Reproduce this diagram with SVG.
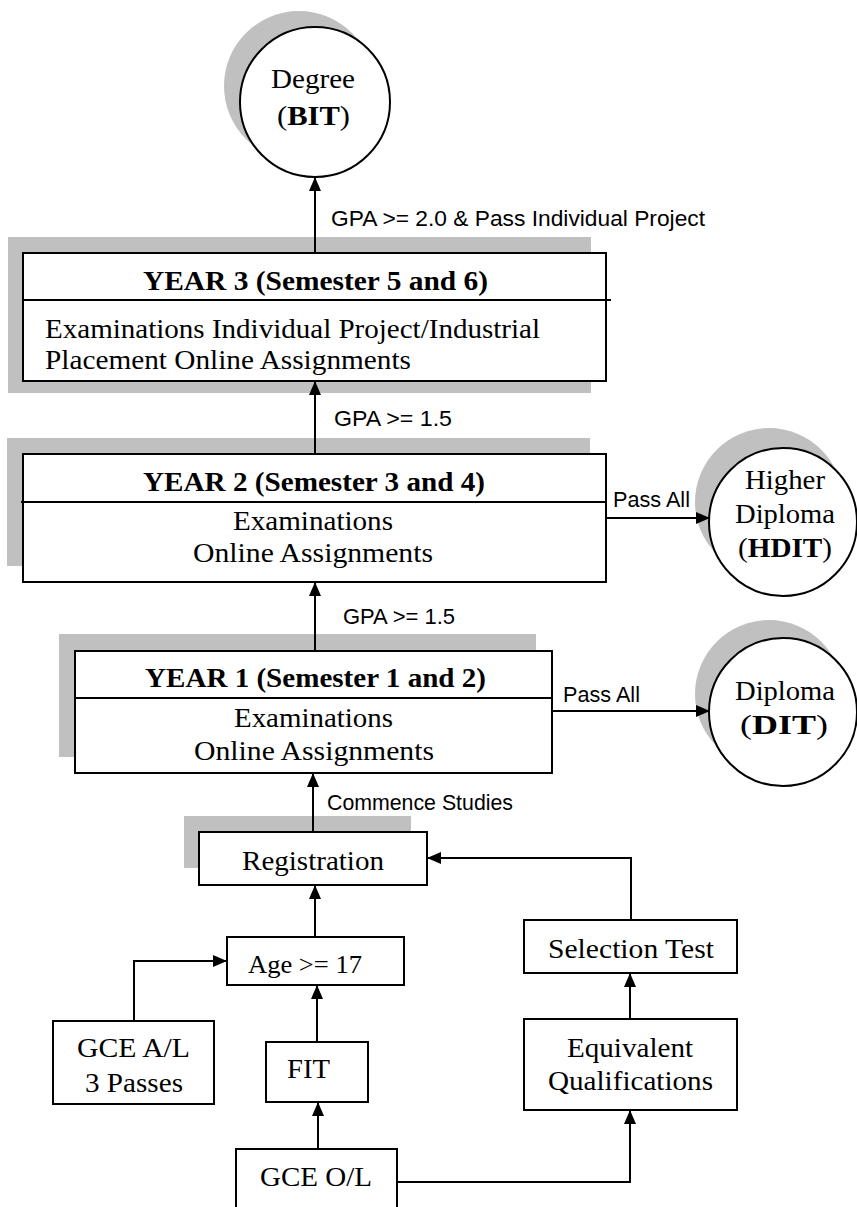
<svg xmlns="http://www.w3.org/2000/svg" width="857" height="1207" viewBox="0 0 857 1207">
<style>
.box{fill:#fff;stroke:#000;stroke-width:2}
.sh{fill:#c0c0c0;stroke:none}
.ln{fill:none;stroke:#000;stroke-width:2}
.t{font-family:"Liberation Serif","Times New Roman",serif;font-size:28px;fill:#000}
.b{font-weight:bold}
.lbl{font-family:"Liberation Sans",Arial,sans-serif;font-size:22px;fill:#000}
</style>
<defs>
<marker id="ah" markerWidth="14" markerHeight="12" refX="13" refY="6" orient="auto" markerUnits="userSpaceOnUse">
<path d="M0,0 L14,6 L0,12 Z" fill="#000"/>
</marker>
</defs>
<rect width="857" height="1207" fill="#fff"/>

<g id="degree">
<circle class="sh" cx="299" cy="86" r="75"/>
<circle class="box" cx="315" cy="102" r="75"/>
<text class="t" x="271" y="88" textLength="84" lengthAdjust="spacingAndGlyphs">Degree</text>
<text class="t" x="277" y="125" textLength="73" lengthAdjust="spacingAndGlyphs">(<tspan class="b">BIT</tspan>)</text>
</g>

<g id="year3">
<rect class="sh" x="8" y="237" width="583" height="156"/>
<rect class="box" x="23" y="253" width="583" height="128"/>
<line class="ln" x1="23" y1="300" x2="611" y2="300"/>
<text class="t b" x="143" y="290" textLength="345" lengthAdjust="spacingAndGlyphs">YEAR 3 (Semester 5 and 6)</text>
<text class="t" x="45" y="338" textLength="495" lengthAdjust="spacingAndGlyphs">Examinations Individual Project/Industrial</text>
<text class="t" x="45" y="369" textLength="366" lengthAdjust="spacingAndGlyphs">Placement Online Assignments</text>
</g>

<g id="year2">
<rect class="sh" x="7" y="438" width="583" height="128"/>
<rect class="box" x="23" y="454" width="583" height="128"/>
<line class="ln" x1="21" y1="502" x2="606" y2="502"/>
<text class="t b" x="143" y="491" textLength="342" lengthAdjust="spacingAndGlyphs">YEAR 2 (Semester 3 and 4)</text>
<text class="t" x="233" y="530" textLength="160" lengthAdjust="spacingAndGlyphs">Examinations</text>
<text class="t" x="193" y="562" textLength="240" lengthAdjust="spacingAndGlyphs">Online Assignments</text>
</g>

<g id="hdit">
<circle class="sh" cx="769" cy="502" r="74"/>
<circle class="box" cx="783" cy="522" r="74"/>
<text class="t" x="745" y="489" textLength="80" lengthAdjust="spacingAndGlyphs">Higher</text>
<text class="t" x="735" y="523" textLength="100" lengthAdjust="spacingAndGlyphs">Diploma</text>
<text class="t" x="738" y="557" textLength="94" lengthAdjust="spacingAndGlyphs">(<tspan class="b">HDIT</tspan>)</text>
</g>

<g id="year1">
<rect class="sh" x="59" y="634" width="477" height="123"/>
<rect class="box" x="75" y="651" width="477" height="122"/>
<line class="ln" x1="75" y1="698" x2="552" y2="698"/>
<text class="t b" x="145" y="687" textLength="341" lengthAdjust="spacingAndGlyphs">YEAR 1 (Semester 1 and 2)</text>
<text class="t" x="234" y="727" textLength="159" lengthAdjust="spacingAndGlyphs">Examinations</text>
<text class="t" x="194" y="760" textLength="240" lengthAdjust="spacingAndGlyphs">Online Assignments</text>
</g>

<g id="dit">
<circle class="sh" cx="769" cy="694" r="74"/>
<circle class="box" cx="783" cy="712" r="74"/>
<text class="t" x="735" y="700" textLength="100" lengthAdjust="spacingAndGlyphs">Diploma</text>
<text class="t" x="740" y="734" textLength="88" lengthAdjust="spacingAndGlyphs">(<tspan class="b">DIT</tspan>)</text>
</g>

<g id="registration">
<rect class="sh" x="184" y="816" width="227" height="52"/>
<rect class="box" x="199" y="832" width="228" height="53"/>
<text class="t" x="242" y="870" textLength="142" lengthAdjust="spacingAndGlyphs">Registration</text>
</g>

<g id="age">
<rect class="box" x="227" y="937" width="177" height="48"/>
<text class="t" x="248" y="973" style="font-size:25px" textLength="114" lengthAdjust="spacingAndGlyphs">Age &gt;= 17</text>
</g>

<g id="selection">
<rect class="box" x="524" y="920" width="213" height="53"/>
<text class="t" x="548" y="958" textLength="166" lengthAdjust="spacingAndGlyphs">Selection Test</text>
</g>

<g id="gceal">
<rect class="box" x="53" y="1021" width="161" height="83"/>
<text class="t" x="77" y="1057" textLength="113" lengthAdjust="spacingAndGlyphs">GCE A/L</text>
<text class="t" x="85" y="1092" textLength="98" lengthAdjust="spacingAndGlyphs">3 Passes</text>
</g>

<g id="fit">
<rect class="box" x="266" y="1042" width="102" height="60"/>
<text class="t" x="287" y="1078" textLength="43" lengthAdjust="spacingAndGlyphs">FIT</text>
</g>

<g id="equivalent">
<rect class="box" x="524" y="1019" width="213" height="91"/>
<text class="t" x="567" y="1057" textLength="126" lengthAdjust="spacingAndGlyphs">Equivalent</text>
<text class="t" x="548" y="1090" textLength="165" lengthAdjust="spacingAndGlyphs">Qualifications</text>
</g>

<g id="gceol">
<rect class="box" x="236" y="1149" width="161" height="70"/>
<text class="t" x="260" y="1186" textLength="112" lengthAdjust="spacingAndGlyphs">GCE O/L</text>
</g>

<g id="connectors">
<line class="ln" x1="315" y1="253" x2="315" y2="178" marker-end="url(#ah)"/>
<text class="lbl" x="331" y="226" textLength="374" lengthAdjust="spacingAndGlyphs">GPA &gt;= 2.0 &amp; Pass Individual Project</text>
<line class="ln" x1="315" y1="454" x2="315" y2="382" marker-end="url(#ah)"/>
<text class="lbl" x="334" y="426" textLength="118" lengthAdjust="spacingAndGlyphs">GPA &gt;= 1.5</text>
<line class="ln" x1="315" y1="651" x2="315" y2="583" marker-end="url(#ah)"/>
<text class="lbl" x="343" y="624" textLength="112" lengthAdjust="spacingAndGlyphs">GPA &gt;= 1.5</text>
<line class="ln" x1="606" y1="518" x2="709" y2="518" marker-end="url(#ah)"/>
<text class="lbl" x="613" y="507" textLength="77" lengthAdjust="spacingAndGlyphs">Pass All</text>
<line class="ln" x1="552" y1="711" x2="709" y2="711" marker-end="url(#ah)"/>
<text class="lbl" x="563" y="702" textLength="77" lengthAdjust="spacingAndGlyphs">Pass All</text>
<line class="ln" x1="313" y1="832" x2="313" y2="774" marker-end="url(#ah)"/>
<text class="lbl" x="327" y="810" textLength="186" lengthAdjust="spacingAndGlyphs">Commence Studies</text>
<line class="ln" x1="315" y1="937" x2="315" y2="886" marker-end="url(#ah)"/>
<polyline class="ln" points="134,1021 134,961 226,961" marker-end="url(#ah)"/>
<line class="ln" x1="317" y1="1042" x2="317" y2="986" marker-end="url(#ah)"/>
<line class="ln" x1="318" y1="1149" x2="318" y2="1103" marker-end="url(#ah)"/>
<polyline class="ln" points="397,1182 630,1182 630,1111" marker-end="url(#ah)"/>
<line class="ln" x1="630" y1="1019" x2="630" y2="974" marker-end="url(#ah)"/>
<polyline class="ln" points="631,920 631,858 428,858" marker-end="url(#ah)"/>
</g>
</svg>
